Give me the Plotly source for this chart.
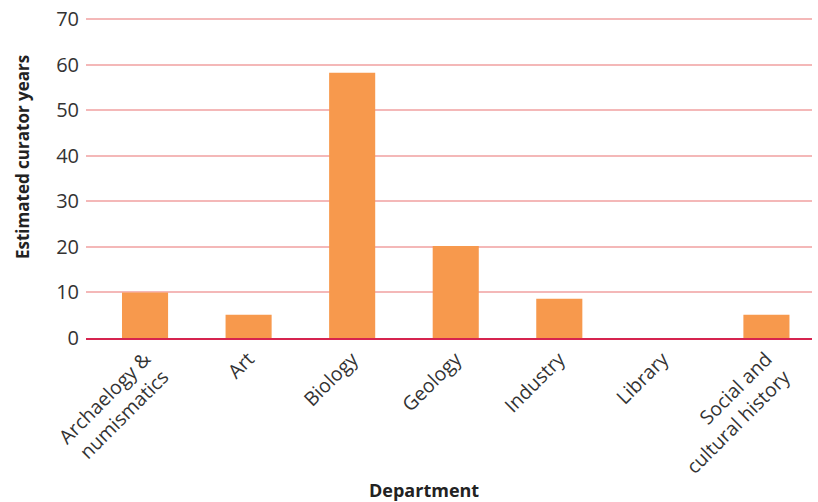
import plotly.graph_objects as go

departments = ["Archaelogy &<br>numismatics", "Art", "Biology", "Geology", "Industry", "Library", "Social and<br>cultural history"]
curator_years = [10, 5.1, 58.2, 20.2, 8.6, 0, 5.1]
y_ticks = [0, 10, 20, 30, 40, 50, 60, 70]

fig = go.Figure(go.Bar(
    x=list(range(len(departments))), y=curator_years,
    marker=dict(color="#F7994D", line=dict(width=0)),
    width=0.445,
))

font_family = "'Open Sans', sans-serif"
top = 14
bottom_px = 338
ymax = 70 + (19 - top) / ((bottom_px - 19) / 70)
fig.update_layout(
    width=818, height=502,
    margin=dict(l=86, r=6, t=top, b=502 - bottom_px),
    plot_bgcolor="white", paper_bgcolor="white",
    showlegend=False,
    font=dict(family=font_family, color="#333333", size=18),
    xaxis=dict(
        range=[-0.57, 6.44],
        tickmode="array", tickvals=list(range(len(departments))), ticktext=departments,
        tickangle=-45, showgrid=False, zeroline=False,
        showline=True, linecolor="#D6244F", linewidth=2,
        ticks="", tickfont=dict(size=19.5, color="#333333"),
    ),
    yaxis=dict(
        range=[0, ymax], tickvals=y_ticks,
        showgrid=True, gridcolor="#F4B8B8", gridwidth=1.5,
        zeroline=False, showline=False, ticks="",
        tickfont=dict(size=20, color="#333333"),
        ticklabelstandoff=6,
    ),
    annotations=[
        dict(text="<b>Department</b>", xref="paper", yref="paper", x=(424 - 86) / 726, y=-(490 - bottom_px) / (bottom_px - top),
             xanchor="center", yanchor="middle", showarrow=False,
             font=dict(size=18, color="#222222", family=font_family)),
        dict(text="<b>Estimated curator years</b>", xref="paper", yref="paper", x=-(86 - 22) / 726, y=(bottom_px - 157) / (bottom_px - top),
             xanchor="center", yanchor="middle", showarrow=False, textangle=-90,
             font=dict(size=17, color="#222222", family=font_family)),
    ],
)

fig.write_html("out.html")
